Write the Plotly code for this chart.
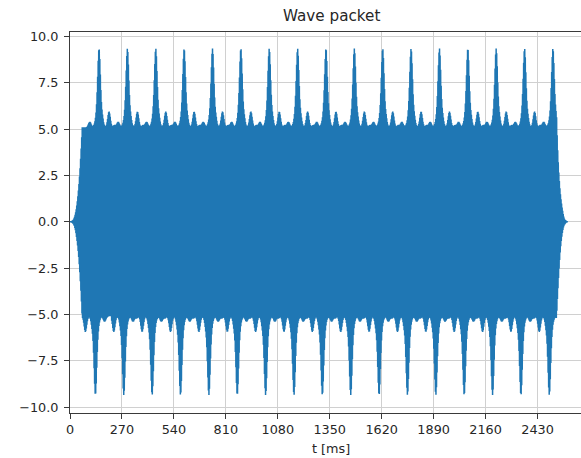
import numpy as np
import plotly.graph_objects as go

# --- signal description -------------------------------------------------
sample_rate_hz = 7000.0
carrier_hz = 350.0
signal_span_ms = [0.0, 2588.0]          # start / end of the packet
ramp_ms = [63.0, 59.0]                  # fade-in / fade-out lengths
ramp_power = 3.0

# centres of the recurring bursts (ms)
burst_centres_ms = [141.5, 289.0, 436.4, 583.9, 731.3, 878.8, 1026.2,
                    1173.7, 1321.1, 1468.6, 1616.0, 1763.5, 1910.9,
                    2058.4, 2205.8, 2353.3, 2500.7]

# upper envelope: steady level plus bumps around each burst centre
envelope_level = 5.1
bump_offsets_ms = [9.4, 9.4, 61.4, -38.6, 90.0, 28.0]
bump_heights = [2.65, 1.6, 0.85, 0.3, 0.12, 0.15]
bump_widths_ms = [6.5, 12.0, 7.0, 7.0, 6.0, 4.0]

# axis ticks
x_ticks = [0, 270, 540, 810, 1080, 1350, 1620, 1890, 2160, 2430]
y_ticks = [-10.0, -7.5, -5.0, -2.5, 0.0, 2.5, 5.0, 7.5, 10.0]

# --- build the waveform -------------------------------------------------
t = np.arange(signal_span_ms[0], signal_span_ms[1], 1000.0 / sample_rate_hz)
centres = np.array(burst_centres_ms)


def upper_env(tt):
    env = np.full_like(tt, envelope_level)
    for c in centres:
        for off, hgt, wid in zip(bump_offsets_ms, bump_heights, bump_widths_ms):
            env += hgt * np.exp(-0.5 * ((tt - c - off) / wid) ** 2)
    return env


upper = upper_env(t)
# the lower edge mirrors the upper edge in time about the nearest burst centre
nearest = centres[np.argmin(np.abs(t[:, None] - centres[None, :]), axis=1)]
lower = -upper_env(2 * nearest - t)

mid = 0.5 * (upper + lower)
half = 0.5 * (upper - lower)

fade = np.ones_like(t)
fade = np.minimum(fade, np.clip((t - signal_span_ms[0]) / ramp_ms[0], 0, 1) ** ramp_power)
fade = np.minimum(fade, np.clip((signal_span_ms[1] - t) / ramp_ms[1], 0, 1) ** ramp_power)

y = fade * (mid + half * np.sin(2 * np.pi * carrier_hz * t / 1000.0))

# --- figure -------------------------------------------------------------
fig = go.Figure()
fig.add_trace(go.Scatter(
    x=t, y=y, mode="lines",
    line=dict(color="#1f77b4", width=1.5, simplify=False),
    hoverinfo="skip", showlegend=False,
))

axis_line = "#3a3a3a"
grid = "#d0d0d0"
font_family = "DejaVu Sans"

fig.update_xaxes(
    range=[0, 2656], tickvals=x_ticks, ticktext=[str(v) for v in x_ticks],
    showgrid=True, gridcolor=grid, gridwidth=0.9, zeroline=False,
    showline=True, linecolor=axis_line, linewidth=1, mirror=True,
    ticks="outside", ticklen=5, tickwidth=0.9, tickcolor=axis_line,
    tickfont=dict(family=font_family, size=12.8, color="#262626"),
)
fig.update_yaxes(
    range=[-10.32, 10.24], tickvals=y_ticks,
    ticktext=[f"{v:.1f}".replace("-", "\u2212") for v in y_ticks],
    showgrid=True, gridcolor=grid, gridwidth=0.9, zeroline=False,
    showline=True, linecolor=axis_line, linewidth=1, mirror=False,
    ticks="outside", ticklen=5, tickwidth=0.9, tickcolor=axis_line,
    tickfont=dict(family=font_family, size=12.8, color="#262626"),
    ticklabelstandoff=3,
)

fig.update_layout(
    width=581, height=458,
    margin=dict(l=70, r=0, t=32, b=45),
    paper_bgcolor="white", plot_bgcolor="white",
    font=dict(family=font_family, color="#262626"),
    annotations=[
        dict(text="Wave packet", xref="paper", yref="paper", x=0.5117, y=1.0,
             xanchor="center", yanchor="bottom", yshift=5, showarrow=False,
             font=dict(family=font_family, size=15.2, color="#262626")),
        dict(text="t [ms]", xref="paper", yref="paper", x=0.5117, y=-0.092,
             xanchor="center", yanchor="middle", showarrow=False,
             font=dict(family=font_family, size=12.8, color="#262626")),
    ],
)

fig.write_html("out.html")
